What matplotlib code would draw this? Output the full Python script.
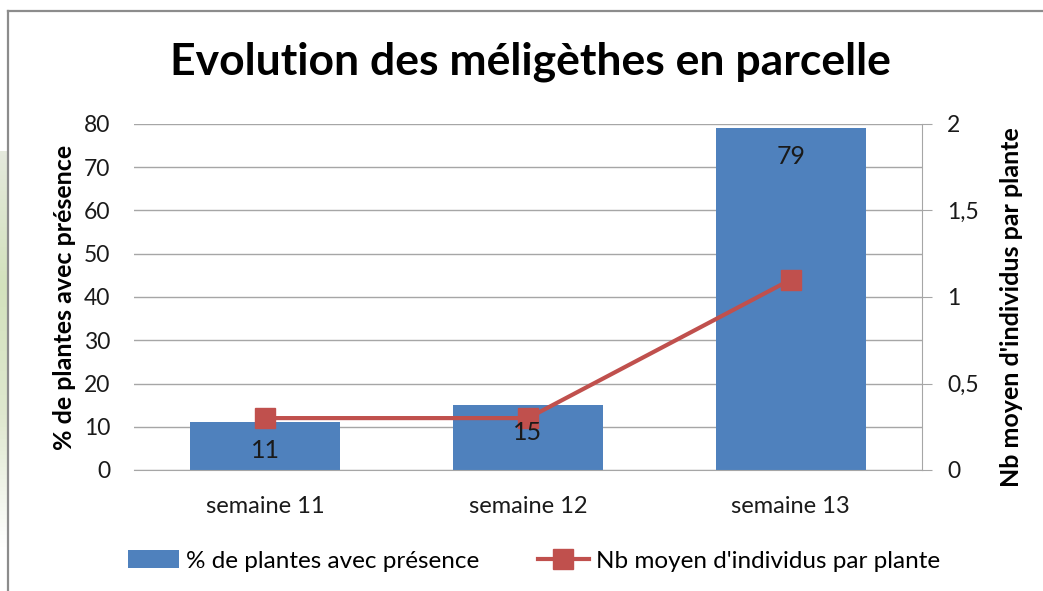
import numpy as np
import matplotlib
matplotlib.use("Agg")
import matplotlib.pyplot as plt
from matplotlib.lines import Line2D
from matplotlib.ticker import FuncFormatter

plt.rcParams["font.family"] = ["Lato", "DejaVu Sans"]

# données
semaines = ["semaine 11", "semaine 12", "semaine 13"]
pct_plantes = [11, 15, 79]
nb_moyen = [0.3, 0.3, 1.1]

BLUE = "#4f81bd"
RED = "#c0504d"
GRID = "#a6a6a6"

W, H = 1043, 591
fig = plt.figure(figsize=(W / 100, H / 100), dpi=100)

# fond vert pâle à gauche du cadre
bg = fig.add_axes([0, 40 / H, 8 / W, 400 / H])
grad = np.linspace(0, 1, 100).reshape(-1, 1)
bg.imshow(grad, aspect="auto", cmap=matplotlib.colors.LinearSegmentedColormap.from_list(
    "g", ["#e4e9dc", "#d3e2bd", "#dfe8cf", "#ffffff"]))
bg.axis("off")

# cadre du graphique
fig.add_artist(Line2D([8 / W, 8 / W], [0, 1 - 11 / H], transform=fig.transFigure,
                      color="#8c8c8c", lw=1.6))
fig.add_artist(Line2D([8 / W, 1], [1 - 11 / H, 1 - 11 / H], transform=fig.transFigure,
                      color="#8c8c8c", lw=1.6))

ax = fig.add_axes([134 / W, 1 - 470 / H, (922 - 134) / W, (470 - 124) / H])
x = np.arange(len(semaines))

ax.set_axisbelow(True)
ax.yaxis.grid(True, color=GRID, lw=1)
bars = ax.bar(x, pct_plantes, width=0.57, color=BLUE, zorder=2,
              label="% de plantes avec présence")
ax.set_xlim(-0.5, 2.5)
ax.set_ylim(0, 80)
ax.set_yticks(range(0, 81, 10))
ax.set_xticks(x)
ax.set_xticklabels(semaines)
for s in ["top", "left", "right"]:
    ax.spines[s].set_visible(False)
ax.spines["bottom"].set_color(GRID)
ax.tick_params(axis="x", length=0, pad=19, labelsize=17, colors="#1a1a1a")
ax.tick_params(axis="y", length=0, pad=17, labelsize=16.5, colors="#1a1a1a")
ax.set_ylabel("% de plantes avec présence", fontsize=18, fontweight="bold")
ax.yaxis.set_label_coords((76 - 134) / (922 - 134), 0.5)

ax2 = ax.twinx()
ax2.plot(x, nb_moyen, color=RED, lw=3, marker="s", markersize=14, zorder=3,
         label="Nb moyen d'individus par plante")
ax2.set_ylim(0, 2)
ax2.set_yticks([0, 0.5, 1, 1.5, 2])
ax2.yaxis.set_major_formatter(FuncFormatter(lambda v, p: f"{v:g}".replace(".", ",")))
for s in ["top", "left", "bottom"]:
    ax2.spines[s].set_visible(False)
ax2.spines["right"].set_color(GRID)
ax2.tick_params(axis="y", length=7, color=GRID, pad=11, labelsize=16.5, colors="#1a1a1a")
ax2.set_ylabel("Nb moyen d'individus par plante", fontsize=18, fontweight="bold",
               rotation=90)
ax2.yaxis.set_label_coords((1000 - 134) / (922 - 134), 0.47)

# étiquettes de valeurs (au-dessus de la courbe)
for xi, v in zip(x, pct_plantes):
    ax2.annotate(str(v), xy=(xi, v / 40), xytext=(0, -20), textcoords="offset points",
                 ha="center", va="center", fontsize=18, color="#1a1a1a", zorder=5)

fig.text(530 / W, 1 - 62 / H, "Evolution des méligèthes en parcelle",
         ha="center", va="center", fontsize=32, fontweight="bold")

handles = [bars, ax2.get_lines()[0]]
fig.legend(handles, [h.get_label() for h in handles], loc="center",
           bbox_to_anchor=(534 / W, 1 - 561 / H), ncol=2, frameon=False,
           fontsize=17.5, handlelength=2.1, columnspacing=2.4, handletextpad=0.3)

fig.savefig("out.png", dpi=100)
